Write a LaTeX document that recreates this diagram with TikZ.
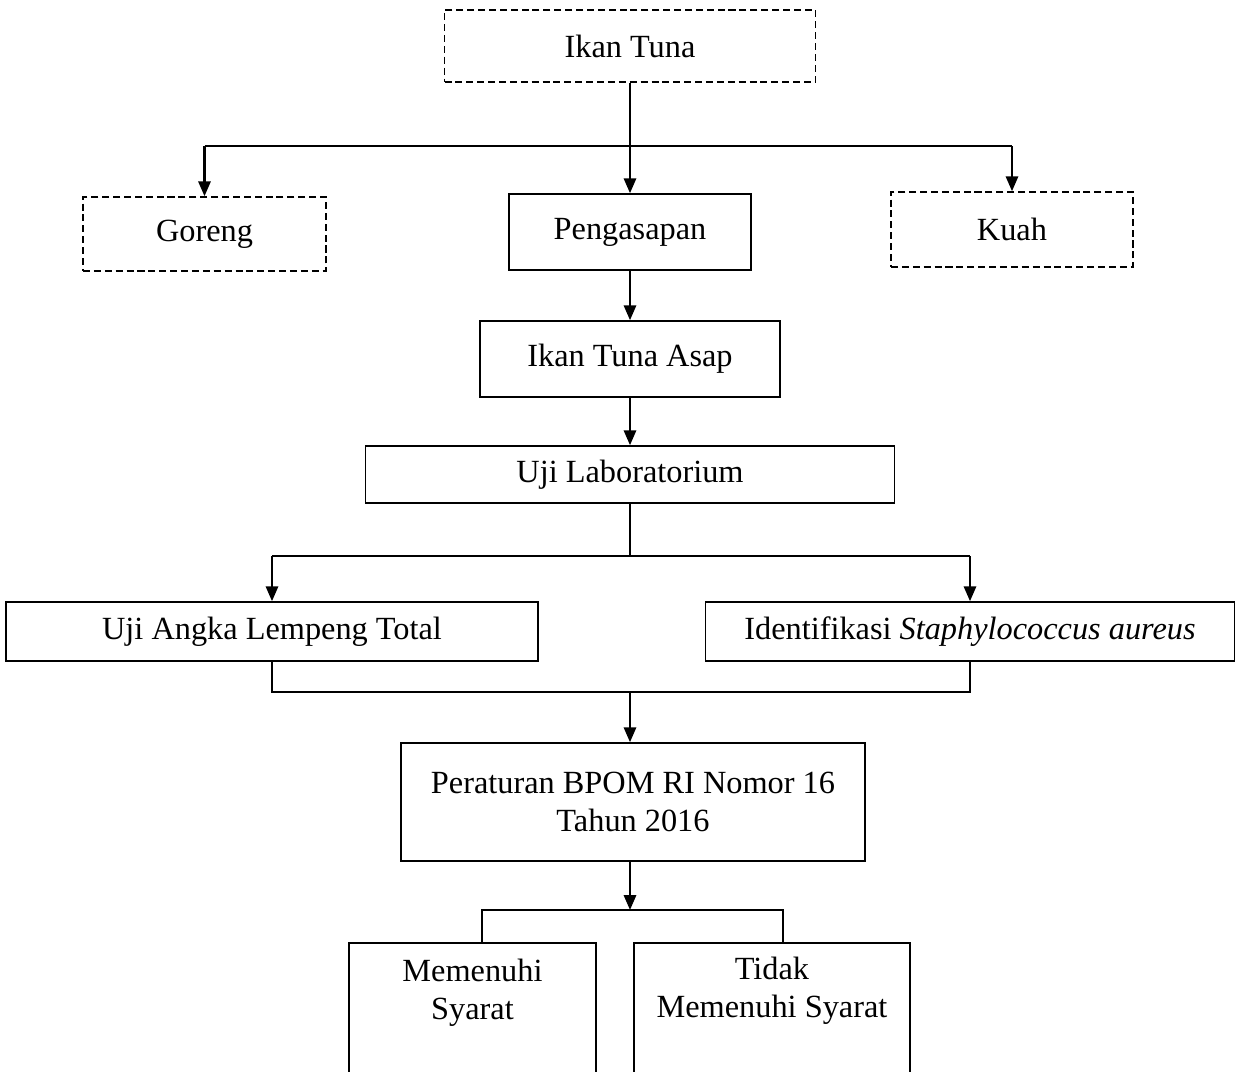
\documentclass[tikz,border=0pt]{standalone}
\usepackage{fontspec}
\setmainfont{Liberation Serif}
\usepackage{tikz}
\usetikzlibrary{
  arrows.meta,
  positioning,
  calc
}
\newcommand{\flowfont}{\fontsize{18.4}{21.5}\selectfont}
\tikzset{
  procbox/.style={draw, line width=0.9pt, align=center, font=\flowfont,
    inner sep=2pt},
  dashbox/.style={procbox, dash pattern=on 4pt off 2.2pt},
  txt/.style={align=center, font=\flowfont, inner sep=0pt},
  arr/.style={-{Triangle[length=8.5pt, width=7pt]}, line width=1.3pt},
  bus/.style={line width=0.7pt},
}

\begin{document}
\begin{tikzpicture}[x=0.02cm, y=-0.02cm]
  \clip (0,0) rectangle (1242,1072);

  % Top: raw material and processing options
  \node[dashbox, minimum width=7.42cm, minimum height=1.44cm] (tuna)
    at (630,46) {Ikan Tuna};
  \node[dashbox, minimum width=4.86cm, minimum height=1.48cm] (goreng)
    at (204.5,234) {Goreng};
  \node[procbox, minimum width=4.84cm, minimum height=1.52cm] (asapan)
    at (630,232) {Pengasapan};
  \node[dashbox, minimum width=4.84cm, minimum height=1.5cm] (kuah)
    at (1012,229.5) {Kuah};

  \coordinate (busA) at (630,146);
  \draw[bus] (tuna.south) -- (busA);
  \draw[bus] (goreng.north |- busA) -- (kuah.north |- busA);
  \draw[arr] (goreng.north |- busA) -- (goreng.north);
  \draw[arr] (busA) -- (asapan.north);
  \draw[arr] (kuah.north |- busA) -- (kuah.north);

  % Middle: smoked product and lab tests
  \node[procbox, minimum width=6cm, minimum height=1.52cm] (asap)
    at (630,359) {Ikan Tuna Asap};
  \node[procbox, minimum width=10.58cm, minimum height=1.14cm] (lab)
    at (630,474.5) {Uji Laboratorium};
  \draw[arr] (asapan.south) -- (asap.north);
  \draw[arr] (asap.south) -- (lab.north);

  \node[procbox, minimum width=10.64cm, minimum height=1.18cm] (alt)
    at (272,631.5) {Uji Angka Lempeng Total};
  \node[procbox, minimum width=10.58cm, minimum height=1.18cm] (staph)
    at (970,631.5) {Identifikasi \textit{Staphylococcus aureus}};

  \coordinate (busB) at (630,556);
  \draw[bus] (lab.south) -- (busB);
  \draw[bus] (alt.north |- busB) -- (staph.north |- busB);
  \draw[arr] (alt.north |- busB) -- (alt.north);
  \draw[arr] (staph.north |- busB) -- (staph.north);

  % Bottom: regulation and result
  \node[procbox, minimum width=9.28cm, minimum height=2.36cm] (bpom)
    at (633,802) {Peraturan BPOM RI Nomor 16\\Tahun 2016};

  \coordinate (busC) at (630,692);
  \draw[bus] (alt.south) -- (alt.south |- busC) -- (staph.south |- busC)
    -- (staph.south);
  \draw[arr] (busC) -- (busC |- bpom.north);

  \node[procbox, minimum width=4.94cm, minimum height=3.2cm, anchor=north]
    (memenuhi) at (472.5,942) {};
  \node[procbox, minimum width=5.52cm, minimum height=3.2cm, anchor=north]
    (tidak) at (772,942) {};
  \node[txt] (memtxt) at (472.5,993) {Memenuhi\\Syarat};
  \node[txt] (tidtxt) at (772,991) {Tidak\\Memenuhi Syarat};

  \coordinate (busD) at (630,910);
  \draw[arr] (bpom.south -| busD) -- (busD);
  \draw[bus] ([xshift=0.19cm]memenuhi.north) -- ++(0,-32)
    -| ([xshift=0.22cm]tidak.north);
\end{tikzpicture}
\end{document}
